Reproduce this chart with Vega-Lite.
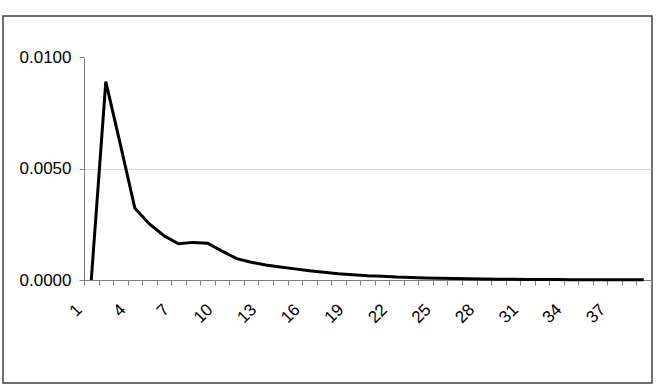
{
  "$schema": "https://vega.github.io/schema/vega-lite/v6.json",
  "autosize": "none",
  "padding": {"left": 3, "top": 16, "right": 7, "bottom": 5},
  "width": 649,
  "height": 367,
  "background": "white",
  "config": {
    "view": {"stroke": "#404040", "strokeWidth": 1.5},
    "font": "Liberation Sans"
  },
  "data": {
    "values": [
      {"k": 1, "v": 0.0},
      {"k": 2, "v": 0.00891},
      {"k": 3, "v": 0.00609},
      {"k": 4, "v": 0.00322},
      {"k": 5, "v": 0.00252},
      {"k": 6, "v": 0.00199},
      {"k": 7, "v": 0.00163},
      {"k": 8, "v": 0.00169},
      {"k": 9, "v": 0.00165},
      {"k": 10, "v": 0.0013},
      {"k": 11, "v": 0.00096},
      {"k": 12, "v": 0.0008},
      {"k": 13, "v": 0.00067},
      {"k": 14, "v": 0.00058},
      {"k": 15, "v": 0.0005},
      {"k": 16, "v": 0.00042},
      {"k": 17, "v": 0.00035},
      {"k": 18, "v": 0.00028},
      {"k": 19, "v": 0.00024},
      {"k": 20, "v": 0.00019},
      {"k": 21, "v": 0.00017},
      {"k": 22, "v": 0.00013},
      {"k": 23, "v": 0.00011},
      {"k": 24, "v": 0.00009},
      {"k": 25, "v": 0.000075},
      {"k": 26, "v": 0.000062},
      {"k": 27, "v": 0.000052},
      {"k": 28, "v": 0.000044},
      {"k": 29, "v": 0.000037},
      {"k": 30, "v": 0.000031},
      {"k": 31, "v": 0.000026},
      {"k": 32, "v": 0.000022},
      {"k": 33, "v": 0.000019},
      {"k": 34, "v": 0.000016},
      {"k": 35, "v": 0.000014},
      {"k": 36, "v": 0.000012},
      {"k": 37, "v": 0.00001},
      {"k": 38, "v": 0.000009},
      {"k": 39, "v": 0.000008}
    ]
  },
  "mark": {"type": "line", "color": "black", "strokeWidth": 3, "strokeJoin": "miter"},
  "encoding": {
    "x": {
      "field": "k",
      "type": "ordinal",
      "bandPosition": 0.5,
      "scale": {"type": "band", "paddingInner": 0, "paddingOuter": 0, "range": [81, 648]},
      "axis": {
        "title": null,
        "orient": "bottom",
        "offset": -103,
        "tickBand": "extent",
        "labelAngle": -45,
        "labelFontSize": 17,
        "labelColor": "black",
        "labelExpr": "(toNumber(datum.value) - 1) % 3 == 0 ? datum.label : ''",
        "labelPadding": 16,
        "labelOffset": -18,
        "tickSize": 5,
        "tickColor": "#808080",
        "domainColor": "#808080",
        "grid": false
      }
    },
    "y": {
      "field": "v",
      "type": "quantitative",
      "scale": {"domain": [0, 0.01], "range": [264, 41.4], "nice": false},
      "axis": {
        "title": null,
        "orient": "left",
        "offset": -81,
        "values": [0, 0.005, 0.01],
        "format": ".4f",
        "labelFontSize": 17,
        "labelColor": "black",
        "labelPadding": 8,
        "tickSize": 5,
        "tickColor": "#808080",
        "domainColor": "#808080",
        "grid": true,
        "gridColor": "#d9d9d9",
        "gridOpacity": {"condition": {"test": "datum.value == 0.005", "value": 1}, "value": 0}
      }
    }
  }
}
